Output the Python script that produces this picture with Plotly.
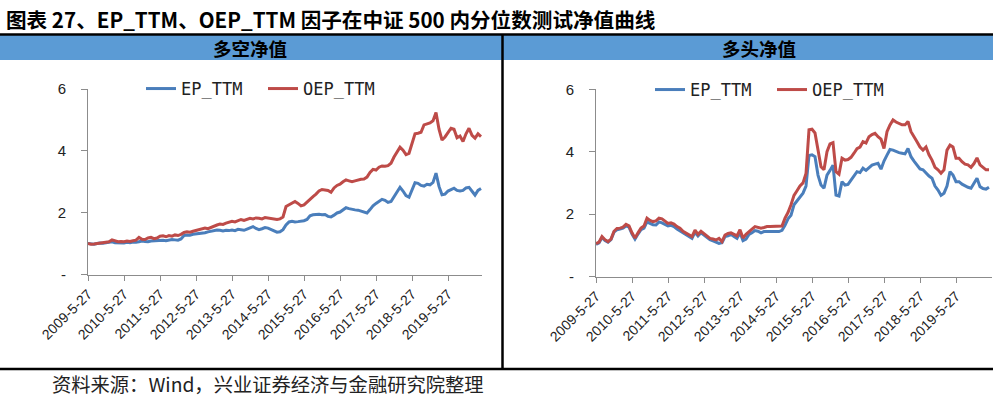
import plotly.graph_objects as go

# ---- data (monthly, starting 2009-5-27) ----
N_POINTS = 132
date_labels = []
for i in range(N_POINTS):
    m = (4 + i) % 12 + 1
    y = 2009 + (4 + i) // 12
    date_labels.append(f"{y}-{m}-27")

tick_labels = ["2009-5-27", "2010-5-27", "2011-5-27", "2012-5-27", "2013-5-27",
               "2014-5-27", "2015-5-27", "2016-5-27", "2017-5-27", "2018-5-27", "2019-5-27"]

series_names = ["EP_TTM", "OEP_TTM"]

# 多空净值 (long-short)
ls_ep = [1.00, 0.99, 0.98, 1.00, 1.02, 1.01, 1.03, 1.05, 1.06, 1.03, 1.02, 1.01,
         1.02, 1.04, 1.03, 1.05, 1.04, 1.06, 1.08, 1.07, 1.06, 1.08, 1.09, 1.08,
         1.10, 1.11, 1.09, 1.12, 1.13, 1.12, 1.11, 1.15, 1.26, 1.28, 1.27, 1.30,
         1.31, 1.33, 1.32, 1.35, 1.38, 1.40, 1.42, 1.44, 1.43, 1.41, 1.43, 1.42,
         1.44, 1.42, 1.46, 1.45, 1.43, 1.47, 1.52, 1.55, 1.49, 1.45, 1.48, 1.52,
         1.50, 1.46, 1.40, 1.37, 1.38, 1.45, 1.60, 1.70, 1.72, 1.70, 1.71, 1.72,
         1.74, 1.78, 1.90, 1.93, 1.94, 1.95, 1.93, 1.94, 1.88, 1.86, 1.92, 1.99,
         2.02, 2.10, 2.16, 2.13, 2.10, 2.09, 2.08, 2.05, 2.02, 1.99, 2.10, 2.22,
         2.30, 2.38, 2.43, 2.40, 2.33, 2.36, 2.50, 2.65, 2.82, 2.70, 2.55, 2.50,
         2.75, 2.97, 2.95, 2.88, 2.86, 2.92, 2.90, 2.98, 3.28, 2.85, 2.58, 2.60,
         2.70, 2.75, 2.79, 2.72, 2.70, 2.72, 2.80, 2.82, 2.68, 2.57, 2.72, 2.78]

ls_oep = [1.00, 0.98, 0.99, 1.00, 1.02, 1.03, 1.04, 1.06, 1.12, 1.08, 1.06, 1.07,
          1.06, 1.08, 1.07, 1.09, 1.11, 1.20, 1.14, 1.13, 1.18, 1.20, 1.16, 1.18,
          1.24, 1.25, 1.22, 1.26, 1.24, 1.28, 1.26, 1.30, 1.36, 1.38, 1.37, 1.40,
          1.42, 1.44, 1.48, 1.50, 1.48, 1.52, 1.58, 1.60, 1.63, 1.62, 1.66, 1.70,
          1.72, 1.70, 1.74, 1.78, 1.75, 1.78, 1.82, 1.80, 1.83, 1.82, 1.80, 1.84,
          1.83, 1.80, 1.79, 1.78, 1.80, 1.86, 2.20, 2.25, 2.30, 2.36, 2.30, 2.22,
          2.25, 2.35, 2.45, 2.52, 2.60, 2.70, 2.75, 2.74, 2.72, 2.66, 2.80, 2.88,
          2.92, 3.00, 3.06, 3.03, 3.00, 3.03, 3.06, 3.08, 3.09, 3.15, 3.30, 3.40,
          3.38, 3.47, 3.51, 3.50, 3.52, 3.60, 3.80, 3.98, 4.12, 4.02, 3.88, 3.92,
          4.20, 4.55, 4.57, 4.60, 4.84, 4.86, 4.90, 4.97, 5.24, 4.70, 4.35, 4.45,
          4.60, 4.73, 4.70, 4.42, 4.48, 4.30, 4.55, 4.73, 4.50, 4.41, 4.55, 4.46]

# 多头净值 (long only)
lo_ep = [1.03, 1.08, 1.25, 1.15, 1.10, 1.18, 1.42, 1.50, 1.52, 1.55, 1.62, 1.58,
         1.36, 1.20, 1.36, 1.50, 1.55, 1.75, 1.70, 1.66, 1.65, 1.75, 1.72, 1.66,
         1.62, 1.64, 1.60, 1.52, 1.46, 1.38, 1.32, 1.26, 1.22, 1.42, 1.30, 1.40,
         1.33, 1.25, 1.18, 1.14, 1.10, 1.06, 1.08, 1.28, 1.30, 1.35, 1.28, 1.22,
         1.40, 1.15, 1.20, 1.35, 1.40, 1.47, 1.45, 1.40, 1.44, 1.45, 1.44, 1.44,
         1.45, 1.44, 1.48, 1.64, 1.85, 1.96, 2.30, 2.42, 2.55, 2.67, 2.90, 3.88,
         3.90, 3.84, 3.25, 2.93, 2.83, 3.25, 3.40, 3.57, 2.61, 2.58, 3.04, 2.93,
         2.95, 3.10, 3.25, 3.36, 3.33, 3.47, 3.40, 3.50, 3.57, 3.60, 3.63, 3.44,
         3.70, 3.89, 4.07, 4.05, 4.00, 3.97, 3.95, 3.93, 4.10, 3.84, 3.70, 3.57,
         3.45, 3.42, 3.31, 3.22, 3.15, 2.90, 2.77, 2.60, 2.67, 2.90, 3.36, 3.25,
         3.04, 3.04, 2.96, 2.90, 2.86, 2.83, 3.00, 3.15, 2.88, 2.82, 2.80, 2.86]

lo_oep = [1.05, 1.10, 1.28, 1.18, 1.12, 1.20, 1.45, 1.54, 1.55, 1.58, 1.67, 1.62,
          1.40, 1.23, 1.40, 1.55, 1.62, 1.87, 1.80, 1.76, 1.78, 1.87, 1.85, 1.78,
          1.70, 1.72, 1.68, 1.60, 1.55, 1.45, 1.40, 1.33, 1.28, 1.49, 1.35, 1.45,
          1.38, 1.30, 1.22, 1.20, 1.17, 1.22, 1.12, 1.33, 1.38, 1.40, 1.35, 1.30,
          1.50, 1.23, 1.35, 1.45, 1.52, 1.60, 1.58, 1.55, 1.57, 1.60, 1.60, 1.60,
          1.62, 1.60, 1.62, 1.87, 2.05, 2.30, 2.60, 2.75, 2.90, 3.00, 3.30, 4.70,
          4.72, 4.60, 4.05, 3.52, 3.42, 4.00, 4.25, 4.29, 3.36, 3.28, 3.79, 3.73,
          3.75, 3.82, 3.95, 4.10, 4.15, 4.32, 4.28, 4.48, 4.55, 4.59, 4.48, 4.40,
          4.10, 4.64, 4.86, 5.02, 4.95, 4.91, 4.86, 4.86, 4.97, 4.64, 4.50, 4.32,
          4.15, 4.05, 4.15, 3.90, 3.73, 3.50, 3.42, 3.31, 3.42, 4.05, 4.21, 4.15,
          3.79, 3.79, 3.68, 3.60, 3.58, 3.50, 3.62, 3.80, 3.58, 3.50, 3.42, 3.42]

y_tick_vals = [0, 2, 4, 6]
y_tick_text = ["-", "2", "4", "6"]

title_text = "图表 27、EP_TTM、OEP_TTM 因子在中证 500 内分位数测试净值曲线"
panel_titles = ["多空净值", "多头净值"]
source_text = "资料来源：Wind，兴业证券经济与金融研究院整理"

# ---- styling ----
W, H = 993, 399
BLUE = "#4A7EBB"
RED = "#BE4B48"
AXIS = "#8C8C8C"
HEADER = "#5B9BD5"


def px(p):
    return p / W


def py(p):
    return 1 - p / H


x_idx = list(range(N_POINTS))
tick_pos = [date_labels.index(t) for t in tick_labels]

fig = go.Figure()
for name, vals, col in zip(series_names, [ls_ep, ls_oep], [BLUE, RED]):
    fig.add_trace(go.Scatter(x=x_idx, y=vals, mode="lines", name=name,
                             line=dict(color=col, width=3), xaxis="x", yaxis="y",
                             legend="legend", customdata=date_labels,
                             hovertemplate="%{customdata}: %{y:.2f}<extra>" + name + "</extra>"))
for name, vals, col in zip(series_names, [lo_ep, lo_oep], [BLUE, RED]):
    fig.add_trace(go.Scatter(x=x_idx, y=vals, mode="lines", name=name,
                             line=dict(color=col, width=3), xaxis="x2", yaxis="y2",
                             legend="legend2", customdata=date_labels,
                             hovertemplate="%{customdata}: %{y:.2f}<extra>" + name + "</extra>"))

xaxis_common = dict(showline=True, linecolor=AXIS, linewidth=1, ticks="outside", ticklen=5,
                    tickcolor=AXIS, tickvals=tick_pos, ticktext=tick_labels, tickangle=-45,
                    tickfont=dict(family="Liberation Sans", size=14, color="#222"),
                    showgrid=False, zeroline=False, fixedrange=True, automargin=False)
yaxis_common = dict(showline=True, linecolor=AXIS, linewidth=1, ticks="outside", ticklen=6,
                    tickcolor=AXIS, tickvals=y_tick_vals, ticktext=y_tick_text, range=[0, 6],
                    tickfont=dict(family="Liberation Sans", size=15, color="#222"),
                    ticklabelstandoff=12, showgrid=False, zeroline=False, fixedrange=True,
                    automargin=False)

legend_common = dict(orientation="h", yanchor="middle", xanchor="left",
                     font=dict(family="DejaVu Sans Mono", size=17, color="#222"),
                     bgcolor="rgba(0,0,0,0)", entrywidth=77, itemclick=False,
                     itemdoubleclick=False)

fig.update_layout(
    width=W, height=H, autosize=False,
    margin=dict(l=0, r=0, t=0, b=0, pad=0, autoexpand=False),
    paper_bgcolor="white", plot_bgcolor="white",
    xaxis=dict(domain=[px(88), px(482)], range=[0, 131.33], anchor="y", **xaxis_common),
    yaxis=dict(domain=[py(274.5), py(89)], anchor="x", **yaxis_common),
    xaxis2=dict(domain=[px(596), px(992)], range=[0, 132], anchor="y2", **xaxis_common),
    yaxis2=dict(domain=[py(276.5), py(89.3)], anchor="x2", **yaxis_common),
    legend=dict(x=px(141), y=py(89), **legend_common),
    legend2=dict(x=px(650), y=py(90), **legend_common),
    showlegend=True,
)

shapes = [
    # header bar
    dict(type="rect", xref="paper", yref="paper", x0=0, x1=1, y0=py(60), y1=py(35),
         fillcolor=HEADER, line=dict(width=0), layer="below"),
    # line under title
    dict(type="line", xref="paper", yref="paper", x0=0, x1=1, y0=py(34.5), y1=py(34.5),
         line=dict(color="black", width=2.5)),
    # vertical divider
    dict(type="line", xref="paper", yref="paper", x0=px(502.5), x1=px(502.5), y0=py(368.5), y1=py(35),
         line=dict(color="black", width=2.5)),
    # bottom line
    dict(type="line", xref="paper", yref="paper", x0=0, x1=1, y0=py(369), y1=py(369),
         line=dict(color="black", width=2.5)),
]
fig.update_layout(shapes=shapes)

annotations = [
    dict(text="<b>" + title_text + "</b>", xref="paper", yref="paper", x=px(4), y=py(19),
         xanchor="left", yanchor="middle", showarrow=False,
         font=dict(family="Noto Sans CJK SC", size=20.6, color="black")),
    dict(text="<b>" + panel_titles[0] + "</b>", xref="paper", yref="paper", x=px(250), y=py(47.5),
         xanchor="center", yanchor="middle", showarrow=False,
         font=dict(family="Noto Sans CJK SC", size=18.5, color="black")),
    dict(text="<b>" + panel_titles[1] + "</b>", xref="paper", yref="paper", x=px(759), y=py(47.5),
         xanchor="center", yanchor="middle", showarrow=False,
         font=dict(family="Noto Sans CJK SC", size=18.5, color="black")),
    dict(text=source_text, xref="paper", yref="paper", x=px(50), y=py(384),
         xanchor="left", yanchor="middle", showarrow=False,
         font=dict(family="Noto Sans CJK SC", size=19.3, color="#222")),
]
fig.update_layout(annotations=annotations)

fig.write_html("out.html", config={"displayModeBar": False},
               post_script="document.body.style.margin='0';document.body.style.overflow='hidden';")
